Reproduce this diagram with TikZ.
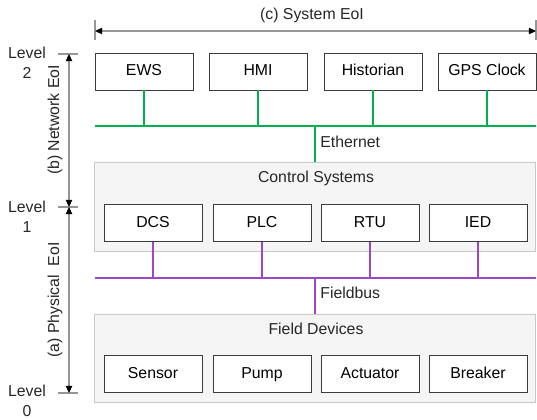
\documentclass[tikz,border=0pt]{standalone}
\usepackage{fontspec}
\setmainfont{Liberation Sans}
\usepackage{tikz}
\usetikzlibrary{arrows.meta,positioning,calc}
\usepackage{xcolor}
\definecolor{ethgreen}{RGB}{0,176,80}
\definecolor{buspurple}{RGB}{152,72,200}
\definecolor{boxline}{RGB}{60,60,60}
\definecolor{panelfill}{RGB}{245,245,245}
\definecolor{panelline}{RGB}{200,200,200}
\definecolor{dimline}{RGB}{150,150,150}

\begin{document}
\begin{tikzpicture}[
    x=0.02cm, y=-0.02cm,
    dev/.style={rectangle, draw=boxline, fill=white, minimum width=1.96cm, minimum height=0.74cm, inner sep=0pt, text height=6.6pt, text depth=1.9pt, font=\fontsize{9}{11}\selectfont},
    panel/.style={rectangle, draw=panelline, fill=panelfill, minimum width=8.82cm, minimum height=1.77cm, inner sep=0pt},
    lbl/.style={font=\fontsize{9}{11.3}\selectfont, text=black!85, inner sep=0pt},
    dim/.style={draw=dimline, semithick},
    tip/.style={{Triangle[length=4pt,width=3.6pt,fill=black,color=black]}-{Triangle[length=4pt,width=3.6pt,fill=black,color=black]}},
    eth/.style={draw=ethgreen, line width=1.1pt},
    fbus/.style={draw=buspurple, line width=1.1pt}
]
    \useasboundingbox (0,0) rectangle (537,419);

    % Level 2: network devices
    \node[dev] (ews) at (144,71.5) {EWS};
    \node[dev] (hmi) at (258,71.5) {HMI};
    \node[dev] (hist) at (373,71.5) {Historian};
    \node[dev] (gps) at (487,71.5) {GPS Clock};

    % Ethernet bus
    \coordinate (ethW) at (95,126);
    \coordinate (ethE) at (536,126);
    \draw[eth] (ethW) -- (ethE);
    \foreach \n in {ews,hmi,hist,gps}
        \draw[eth] (\n.south) -- (\n.south |- ethW);

    % Level 1: control systems
    \node[panel] (ctrl) at (315,207) {};
    \node[lbl] (ctrltitle) at (316,178) {Control Systems};
    \node[dev] (dcs) at (153,223) {DCS};
    \node[dev] (plc) at (262,223) {PLC};
    \node[dev] (rtu) at (370,223) {RTU};
    \node[dev] (ied) at (478,223) {IED};

    \draw[eth] (ethW -| ctrl.north) -- (ctrl.north);
    \node[lbl, anchor=west] (ethlbl) at (320,142) {Ethernet};

    % Fieldbus
    \coordinate (fbW) at (95,278);
    \coordinate (fbE) at (536,278);
    \draw[fbus] (fbW) -- (fbE);
    \foreach \n in {dcs,plc,rtu,ied}
        \draw[fbus] (\n.south) -- (\n.south |- fbW);

    % Level 0: field devices
    \node[panel] (field) at (315,358.5) {};
    \node[lbl] (fieldtitle) at (316,329) {Field Devices};
    \node[dev] (sensor) at (153,374) {Sensor};
    \node[dev] (pump) at (262,374) {Pump};
    \node[dev] (act) at (370,374) {Actuator};
    \node[dev] (brk) at (478,374) {Breaker};

    \draw[fbus] (fbW -| field.north) -- (field.north);
    \node[lbl, anchor=west] (fblbl) at (320,293) {Fieldbus};

    % System extent
    \coordinate (sysW) at (95,31);
    \coordinate (sysE) at (536,31);
    \draw[dim] (95,20) -- (95,40);
    \draw[dim] (536,20) -- (536,40);
    \draw[dim, tip] (sysW) -- (sysE);
    \node[lbl] (syslbl) at (312,15) {(c) System EoI};

    % Levels
    \coordinate (lv2) at (69,54);
    \coordinate (lv1) at (69,207);
    \coordinate (lv0) at (69,393);
    \foreach \c in {lv2,lv1,lv0}
        \draw[dim] ($(\c)+(-11,0)$) -- ($(\c)+(9,0)$);
    \draw[dim, tip] (lv2) -- (lv1);
    \draw[dim, tip] (lv1) -- (lv0);

    \node[lbl, align=center] (l2) at (27,63) {Level\\2};
    \node[lbl, align=center] (l1) at (27,217) {Level\\1};
    \node[lbl, align=center] (l0) at (27,401) {Level\\0};

    \node[lbl, rotate=90] (netlbl) at (55,120) {(b) Network EoI};
    \node[lbl, rotate=90] (phylbl) at (55,300) {(a) Physical\ \ EoI};
\end{tikzpicture}
\end{document}
